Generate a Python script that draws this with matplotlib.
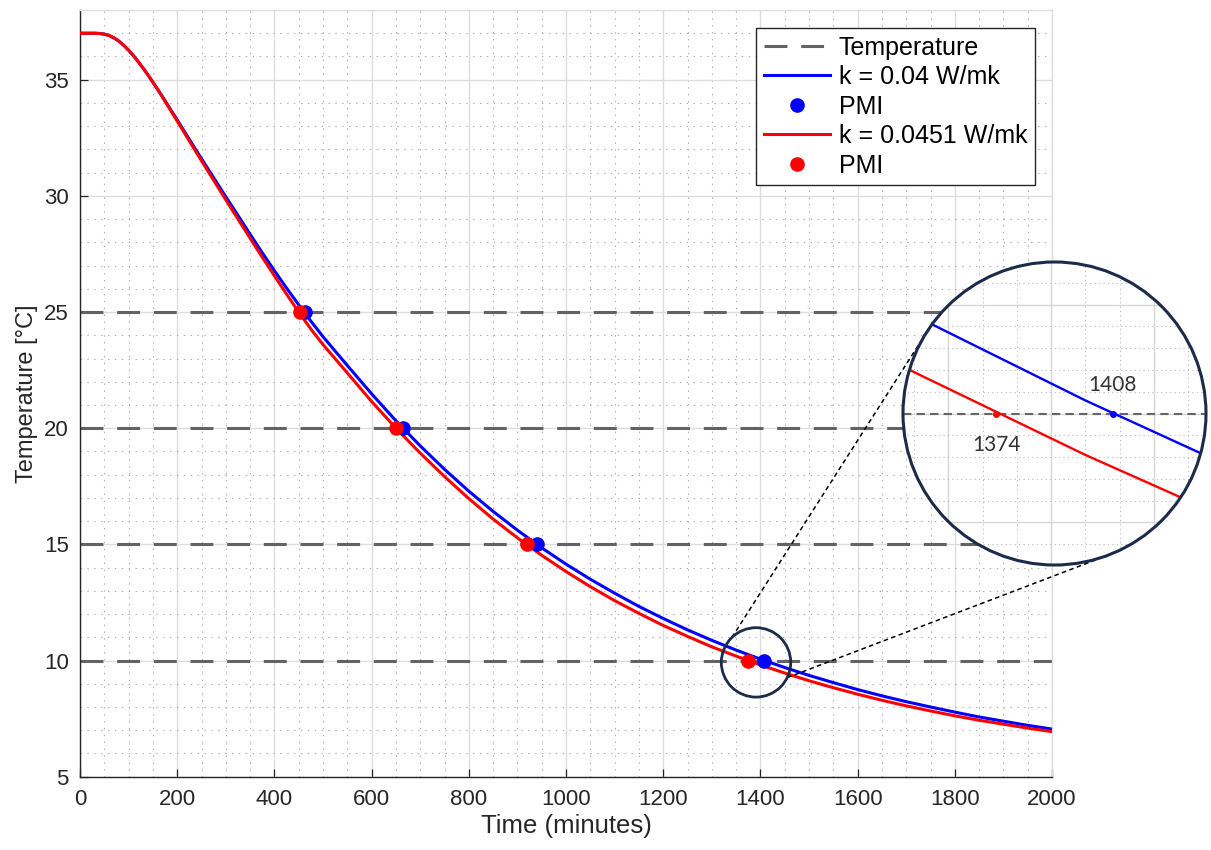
import numpy as np
import matplotlib
matplotlib.use("Agg")
import matplotlib.pyplot as plt
from matplotlib.patches import Circle, Ellipse
from matplotlib.lines import Line2D
from matplotlib.ticker import MultipleLocator

plt.rcParams["font.family"] = ["Liberation Sans", "DejaVu Sans"]

# ---- data -------------------------------------------------------------
time_min = [0, 30, 40, 50, 60, 70, 80, 90, 100, 110, 120, 130, 140, 150, 160,
            170, 180, 190, 200, 225, 250, 275, 300, 325, 350, 375, 400, 425,
            450, 475, 500, 550, 600, 650, 700, 750, 800, 850, 900, 950, 1000,
            1050, 1100, 1150, 1200, 1250, 1300, 1350, 1400, 1450, 1500, 1550,
            1600, 1650, 1700, 1750, 1800, 1850, 1900, 1950, 2000]

temp_k004 = [37.0, 37.0, 36.99, 36.96, 36.9, 36.8, 36.66, 36.48, 36.27, 36.03,
             35.77, 35.49, 35.2, 34.89, 34.58, 34.26, 33.93, 33.6, 33.27,
             32.43, 31.6, 30.78, 29.96, 29.16, 28.35, 27.55, 26.78, 26.03,
             25.31, 24.61, 23.94, 22.70, 21.48, 20.32, 19.24, 18.23, 17.29,
             16.42, 15.61, 14.85, 14.15, 13.50, 12.90, 12.33, 11.81, 11.32,
             10.87, 10.45, 10.06, 9.70, 9.36, 9.05, 8.75, 8.48, 8.23, 8.00,
             7.78, 7.57, 7.39, 7.21, 7.05]

temp_k0451 = [37.0, 37.0, 36.99, 36.96, 36.9, 36.8, 36.66, 36.48, 36.27, 36.03,
              35.77, 35.49, 35.2, 34.89, 34.57, 34.24, 33.9, 33.56, 33.22,
              32.36, 31.51, 30.67, 29.83, 29.0, 28.18, 27.36, 26.56, 25.77,
              25.0, 24.27, 23.6, 22.38, 21.15, 20.0, 18.93, 17.92, 16.97,
              16.09, 15.28, 14.53, 13.83, 13.18, 12.58, 12.03, 11.51, 11.04,
              10.59, 10.19, 9.81, 9.46, 9.13, 8.83, 8.55, 8.29, 8.05, 7.83,
              7.62, 7.43, 7.26, 7.09, 6.94]

pmi_levels = [25, 20, 15, 10]
pmi_k004 = [462, 665, 940, 1408]
pmi_k0451 = [452, 650, 920, 1374]

xticks = [0, 200, 400, 600, 800, 1000, 1200, 1400, 1600, 1800, 2000]
yticks = [5, 10, 15, 20, 25, 30, 35]

# ---- figure / main axes ----------------------------------------------
W, H = 1211, 850
fig = plt.figure(figsize=(W / 100, H / 100), dpi=100)
ax = fig.add_axes([80 / W, 1 - 776.7 / H, 972 / W, 766.7 / H])

dash_grey = "#636363"
for i, lvl in enumerate(pmi_levels):
    ax.axhline(lvl, color=dash_grey, lw=2.2, dashes=(7.5, 4.5),
               label="Temperature" if i == 0 else "_nolegend_", zorder=2)

ax.plot(time_min, temp_k004, color="#0000ff", lw=2.2, label="k = 0.04 W/mk", zorder=3)
ax.plot(pmi_k004, pmi_levels, ls="none", marker="o", ms=9.5, color="#0000ff",
        label="PMI", zorder=4)
ax.plot(time_min, temp_k0451, color="#ff0000", lw=2.2, label="k = 0.0451 W/mk", zorder=3)
ax.plot(pmi_k0451, pmi_levels, ls="none", marker="o", ms=9.5, color="#ff0000",
        label="PMI", zorder=4)

ax.set_xlim(0, 2000)
ax.set_ylim(5, 38)
ax.set_xticks(xticks)
ax.set_yticks(yticks)
ax.xaxis.set_minor_locator(MultipleLocator(50))
ax.yaxis.set_minor_locator(MultipleLocator(1))
ax.grid(which="major", color="#dddddd", lw=1.0, ls="-", zorder=0)
ax.grid(which="minor", color="#aaaaaa", lw=0.8, ls=(0, (1.2, 5)), zorder=0)
ax.set_axisbelow(True)
ax.tick_params(which="major", direction="in", length=6, width=0.9,
               colors="#262626", labelsize=16)
ax.tick_params(axis="y", which="major", pad=8)
ax.tick_params(axis="x", which="major", pad=9)
ax.tick_params(which="minor", length=0)
for side in ("left", "bottom"):
    ax.spines[side].set_color("#262626")
    ax.spines[side].set_linewidth(1.0)
for side in ("top", "right"):
    ax.spines[side].set_color("#dddddd")
    ax.spines[side].set_linewidth(1.0)

ax.set_xlabel("Time (minutes)", fontsize=18.5, color="#262626", labelpad=3)
ax.set_ylabel("Temperature [°C]", fontsize=17, color="#262626", labelpad=4)

leg = ax.legend(loc="upper right", bbox_to_anchor=(1 - 17 / 972, 1 - 18 / 766.7),
                borderaxespad=0, fontsize=18, handlelength=2.65,
                handletextpad=0.35, labelspacing=0.22, borderpad=0.3,
                numpoints=1, fancybox=False, framealpha=1)
leg.get_frame().set_edgecolor("#262626")
leg.get_frame().set_linewidth(1.0)

# ---- magnifier: small ring on the plot, large ring with zoomed view ----
ring_color = "#1d2b4a"
focus = (1391, 9.92)
r_small = 34.7
cx, cy = ax.transData.transform(focus)
fig.add_artist(Ellipse((cx / W, cy / H), 2 * r_small / W, 2 * r_small / H,
                       transform=fig.transFigure, fill=False,
                       edgecolor=ring_color, lw=2.0, zorder=4))

box = (903, 262, 303)  # left, top, size in pixels
bx = (box[0] + box[2] / 2)
by = H - (box[1] + box[2] / 2)
R = box[2] / 2

for a_small, a_big in [(134, 147), (-26, -69)]:
    p1 = (cx + r_small * np.cos(np.radians(a_small)),
          cy + r_small * np.sin(np.radians(a_small)))
    p2 = (bx + R * np.cos(np.radians(a_big)),
          by + R * np.sin(np.radians(a_big)))
    fig.add_artist(Line2D([p1[0] / W, p2[0] / W], [p1[1] / H, p2[1] / H],
                          transform=fig.transFigure, color="black", lw=1.1,
                          dashes=(3, 2.2), zorder=3))

ax_in = fig.add_axes([box[0] / W, 1 - (box[1] + box[2]) / H, box[2] / W, box[2] / H],
                     zorder=5)
ax_in.axis("off")
half_x, half_y = 44.2, 0.695
ax_in.set_xlim(focus[0] - half_x, focus[0] + half_x)
ax_in.set_ylim(10 - half_y, 10 + half_y)

disc = Circle((0.5, 0.5), 0.5, transform=ax_in.transAxes, facecolor="white",
              edgecolor="none", zorder=0)
ax_in.add_patch(disc)

drawn = []
for xv in np.arange(1320, 1450, 10):
    if (xv - 1330) % 30 == 0:
        drawn.append(ax_in.axvline(xv, color="#d6d6d6", lw=1.0, zorder=1))
    else:
        drawn.append(ax_in.axvline(xv, color="#b8b8b8", lw=0.8,
                                   ls=(0, (1, 3)), zorder=1))
for k in range(-7, 8):
    yv = 10 + k * 0.1
    if k % 5 == 0:
        drawn.append(ax_in.axhline(yv, color="#d6d6d6", lw=1.0, zorder=1))
    else:
        drawn.append(ax_in.axhline(yv, color="#b8b8b8", lw=0.8,
                                   ls=(0, (1, 3)), zorder=1))

drawn.append(ax_in.axhline(10, color="#666666", lw=1.5, dashes=(4, 2.5), zorder=2))
drawn += ax_in.plot(time_min, temp_k004, color="#0000ff", lw=1.7, zorder=3)
drawn += ax_in.plot(time_min, temp_k0451, color="#ff0000", lw=1.7, zorder=3)
drawn += ax_in.plot([pmi_k004[-1]], [pmi_levels[-1]], ls="none", marker="o",
                    ms=4, color="#0000ff", zorder=4)
drawn += ax_in.plot([pmi_k0451[-1]], [pmi_levels[-1]], ls="none", marker="o",
                    ms=4, color="#ff0000", zorder=4)
for artist in drawn:
    artist.set_clip_path(disc)

ax_in.text(pmi_k004[-1], pmi_levels[-1] + 0.13, f"{pmi_k004[-1]}",
           ha="center", va="center", fontsize=15, color="#333333",
           family=["Lato", "DejaVu Sans"], zorder=6)
ax_in.text(pmi_k0451[-1], pmi_levels[-1] - 0.145, f"{pmi_k0451[-1]}",
           ha="center", va="center", fontsize=15, color="#333333",
           family=["Lato", "DejaVu Sans"], zorder=6)

ax_in.add_patch(Circle((0.5, 0.5), 0.5, transform=ax_in.transAxes, fill=False,
                       edgecolor=ring_color, lw=2.2, zorder=10, clip_on=False))

fig.savefig("out.png", dpi=100)
